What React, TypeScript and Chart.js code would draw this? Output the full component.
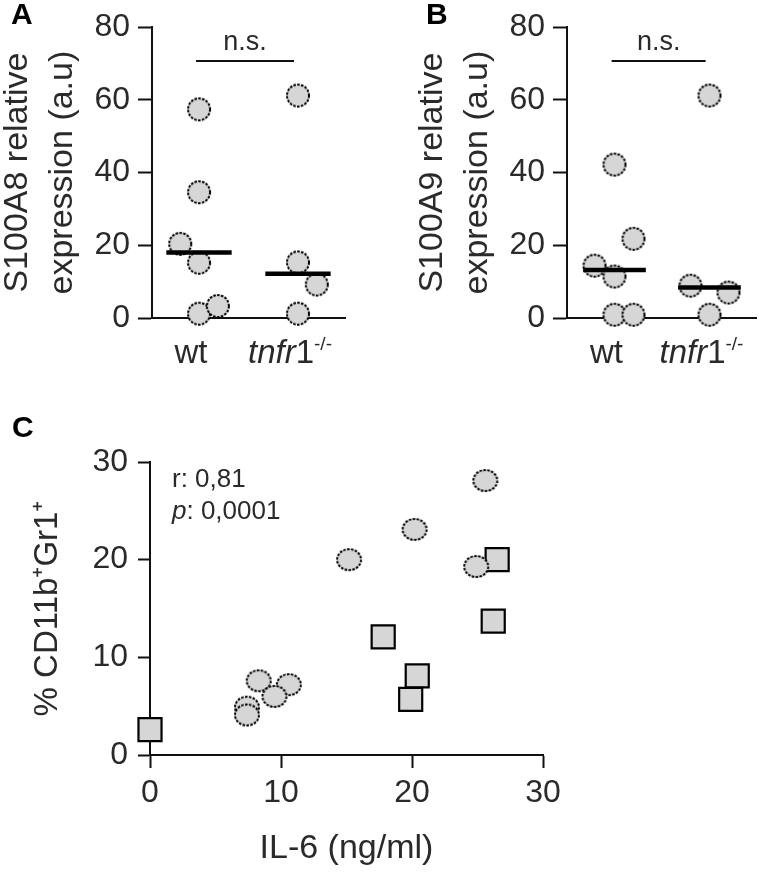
import React, { useEffect, useRef } from 'react';
import { Chart, registerables } from 'chart.js';

Chart.register(...registerables);

const FONT = '"Liberation Sans", Arial, Helvetica, sans-serif';
const INK = '#2a2a2a';
const AXIS = '#111111';
const FILL = '#d6d6d6';

// ---------- Panels A & B (dot plots) ----------
const groupPos = [1, 2];
const groupLabelRuns: [string, string][][] = [
  [['wt', 'normal']],
  [['tnfr', 'italic'], ['1', 'normal'], ['-/-', 'sup']],
];

// Panel A: S100A8
const aWtX = [1, 1, 0.81, 1, 1, 1.19];
const aWtY = [57.4, 34.6, 20.4, 15.2, 1.2, 3.3];
const aKoX = [2, 2, 2.19, 2];
const aKoY = [61.2, 15.3, 9.2, 1.2];
const aMedians = [18.0, 12.2];
const aTitle = ['S100A8 relative', 'expression (a.u)'];

// Panel B: S100A9
const bWtX = [1, 1.2, 0.79, 1, 1, 1.2];
const bWtY = [42.2, 21.8, 14.4, 11.4, 0.9, 0.9];
const bKoX = [2, 1.8, 2.2, 2];
const bKoY = [61.2, 8.9, 7.0, 0.9];
const bMedians = [13.2, 8.4];
const bTitle = ['S100A9 relative', 'expression (a.u)'];

const dotYTicks = [0, 20, 40, 60, 80];
const nsBarY = 70.7;
const nsBarX = [0.97, 1.96];
const nsLabel = 'n.s.';

// ---------- Panel C (scatter) ----------
const cWtIL6 = [25.6, 20.2, 15.2, 24.9, 8.3, 10.6, 9.5, 7.4, 7.4];
const cWtCD = [28.1, 23.1, 20.0, 19.3, 7.6, 7.2, 6.0, 4.9, 4.1];
const cKoIL6 = [0, 17.8, 20.4, 19.9, 26.5, 26.2];
const cKoCD = [2.6, 12.1, 8.1, 5.7, 20.0, 13.7];
const cTicks = [0, 10, 20, 30];
const corrLines: [string, string][][] = [
  [['r', 'normal'], [': 0,81', 'normal']],
  [['p', 'italic'], [': 0,0001', 'normal']],
];

const MED_HALF = 0.33;

function dottedEllipse(rx: number, ry: number) {
  const c = document.createElement('canvas');
  const w = Math.ceil(rx * 2 + 4);
  const h = Math.ceil(ry * 2 + 4);
  c.width = w;
  c.height = h;
  const g = c.getContext('2d')!;
  g.beginPath();
  g.ellipse(w / 2, h / 2, rx, ry, 0, 0, Math.PI * 2);
  g.fillStyle = FILL;
  g.fill();
  g.setLineDash([2.6, 1.3]);
  g.lineWidth = 2;
  g.strokeStyle = '#000';
  g.stroke();
  return c;
}

function runFont(kind: string, size: number) {
  if (kind === 'italic') return `italic ${size}px ${FONT}`;
  if (kind === 'sup') return `${Math.round(size * 0.58)}px ${FONT}`;
  return `${size}px ${FONT}`;
}

function drawRuns(ctx: CanvasRenderingContext2D, runs: [string, string][], x: number, y: number, size: number, align: 'center' | 'left') {
  let total = 0;
  const widths = runs.map(([t, k]) => {
    ctx.font = runFont(k, size);
    const w = ctx.measureText(t).width;
    total += w;
    return w;
  });
  let cx = align === 'center' ? x - total / 2 : x;
  ctx.textAlign = 'left';
  ctx.textBaseline = 'alphabetic';
  runs.forEach(([t, k], i) => {
    ctx.font = runFont(k, size);
    const dy = k === 'sup' ? -size * 0.4 : 0;
    ctx.fillText(t, cx, y + dy);
    cx += widths[i];
  });
}

const dotAnnotations = {
  id: 'dotAnnotations',
  afterDraw(chart: any) {
    const { ctx, chartArea, scales } = chart;
    const xs = scales.x;
    const ys = scales.y;
    ctx.save();
    ctx.fillStyle = INK;
    groupLabelRuns.forEach((runs, i) => {
      drawRuns(ctx, runs, xs.getPixelForValue(groupPos[i]) - 8, chartArea.bottom + 45, 33, 'center');
    });
    ctx.font = `27px ${FONT}`;
    ctx.textAlign = 'center';
    ctx.textBaseline = 'alphabetic';
    ctx.fillText(nsLabel, xs.getPixelForValue((nsBarX[0] + nsBarX[1]) / 2), ys.getPixelForValue(nsBarY) - 11);
    ctx.restore();
  },
};

const corrAnnotation = {
  id: 'corrAnnotation',
  afterDraw(chart: any) {
    const { ctx, chartArea } = chart;
    ctx.save();
    ctx.fillStyle = INK;
    corrLines.forEach((runs, i) => {
      drawRuns(ctx, runs, chartArea.left + 22, chartArea.top + 25 + i * 32, 26, 'left');
    });
    ctx.restore();
  },
};

function dotConfig(wtX: number[], wtY: number[], koX: number[], koY: number[], medians: number[], title: string[], xMin: number, xMax: number, padRight: number) {
  const dot = dottedEllipse(11, 11);
  const pts = (xa: number[], ya: number[]) => xa.map((x, i) => ({ x, y: ya[i] }));
  return {
    type: 'scatter',
    data: {
      datasets: [
        ...medians.map((m, i) => ({
          data: [{ x: groupPos[i] - MED_HALF, y: m }, { x: groupPos[i] + MED_HALF, y: m }],
          showLine: true,
          borderColor: '#000',
          borderWidth: 4.5,
          pointRadius: 0,
          clip: false,
        })),
        {
          data: [{ x: nsBarX[0], y: nsBarY }, { x: nsBarX[1], y: nsBarY }],
          showLine: true,
          borderColor: AXIS,
          borderWidth: 2,
          pointRadius: 0,
          clip: false,
        },
        { data: pts(wtX, wtY), pointStyle: dot, pointRadius: 11, showLine: false, clip: false },
        { data: pts(koX, koY), pointStyle: dot, pointRadius: 11, showLine: false, clip: false },
      ],
    },
    options: {
      responsive: false,
      animation: false,
      events: [],
      layout: { padding: { left: 0, right: padRight, top: 24, bottom: 0 } },
      plugins: { legend: { display: false }, tooltip: { enabled: false } },
      scales: {
        x: {
          type: 'linear',
          min: xMin,
          max: xMax,
          grid: { display: false },
          ticks: { display: false },
          border: { display: true, color: AXIS, width: 2 },
          afterFit: (s: any) => { s.height = 62; },
        },
        y: {
          type: 'linear',
          min: 0,
          max: 80,
          afterBuildTicks: (s: any) => { s.ticks = dotYTicks.map((v) => ({ value: v })); },
          ticks: { color: INK, font: { family: FONT, size: 32 }, padding: 8 },
          grid: { display: true, drawOnChartArea: false, drawTicks: true, tickLength: 14, tickWidth: 2, tickColor: AXIS, color: AXIS },
          border: { display: true, color: AXIS, width: 2 },
          title: { display: true, text: title, color: INK, font: { family: FONT, size: 34, lineHeight: 1.3 }, padding: { top: -4, bottom: 0 } },
          afterFit: (s: any) => { s.width = 152; },
        },
      },
    },
    plugins: [dotAnnotations],
  };
}

function scatterConfig() {
  const circ = dottedEllipse(12, 10.5);
  const pts = (xa: number[], ya: number[]) => xa.map((x, i) => ({ x, y: ya[i] }));
  return {
    type: 'scatter',
    data: {
      datasets: [
        { data: pts(cWtIL6, cWtCD), pointStyle: circ, pointRadius: 12, clip: false },
        { data: pts(cKoIL6, cKoCD), pointStyle: 'rect', pointRadius: 16.3, backgroundColor: FILL, borderColor: '#000', borderWidth: 2.2, clip: false },
      ],
    },
    options: {
      responsive: false,
      animation: false,
      events: [],
      layout: { padding: { left: 0, right: 57, top: 102, bottom: 0 } },
      plugins: { legend: { display: false }, tooltip: { enabled: false } },
      scales: {
        x: {
          type: 'linear',
          min: 0,
          max: 30,
          afterBuildTicks: (s: any) => { s.ticks = cTicks.map((v) => ({ value: v })); },
          ticks: { color: INK, font: { family: FONT, size: 32 }, padding: 6, maxRotation: 0 },
          grid: { display: true, drawOnChartArea: false, drawTicks: true, tickLength: 13, tickWidth: 2, tickColor: AXIS, color: AXIS },
          border: { display: true, color: AXIS, width: 2 },
          title: { display: true, text: 'IL-6 (ng/ml)', color: INK, font: { family: FONT, size: 34, lineHeight: 1.2 }, padding: { top: 0, bottom: 5 } },
          afterFit: (s: any) => { s.height = 119; },
        },
        y: {
          type: 'linear',
          min: 0,
          max: 30,
          afterBuildTicks: (s: any) => { s.ticks = cTicks.map((v) => ({ value: v })); },
          ticks: { color: INK, font: { family: FONT, size: 32 }, padding: 10 },
          grid: { display: true, drawOnChartArea: false, drawTicks: true, tickLength: 12, tickWidth: 2, tickColor: AXIS, color: AXIS },
          border: { display: true, color: AXIS, width: 2 },
          title: { display: true, text: '% CD11b\u207AGr1\u207A', color: INK, font: { family: FONT, size: 33, lineHeight: 1.2 }, padding: { top: 28, bottom: 0 } },
          afterFit: (s: any) => { s.width = 150; },
        },
      },
    },
    plugins: [corrAnnotation],
  };
}

function ChartCanvas({ make, width, height, left, top }: { make: () => any; width: number; height: number; left: number; top: number }) {
  const ref = useRef<HTMLCanvasElement | null>(null);
  useEffect(() => {
    if (!ref.current) return;
    const chart = new Chart(ref.current, make());
    return () => chart.destroy();
  }, []);
  return <canvas ref={ref} width={width} height={height} style={{ position: 'absolute', left, top, width, height }} />;
}

const letterStyle = (left: number, top: number): React.CSSProperties => ({
  position: 'absolute',
  left,
  top,
  font: `bold 30px ${FONT}`,
  color: '#000',
  lineHeight: '32px',
});

export default function App() {
  return (
    <div style={{ position: 'absolute', left: 0, top: 0, width: 768, height: 874, background: '#fff', overflow: 'hidden' }}>
      <ChartCanvas make={() => dotConfig(aWtX, aWtY, aKoX, aKoY, aMedians, aTitle, 0.525, 2.475, 39)} width={384} height={380} left={0} top={0} />
      <ChartCanvas make={() => dotConfig(bWtX, bWtY, bKoX, bKoY, bMedians, bTitle, 0.5, 2.49, 6)} width={353} height={380} left={415} top={0} />
      <ChartCanvas make={scatterConfig} width={600} height={514} left={0} top={360} />
      <div style={letterStyle(11, -2)}>A</div>
      <div style={letterStyle(426, -2)}>B</div>
      <div style={letterStyle(12, 411)}>C</div>
    </div>
  );
}
